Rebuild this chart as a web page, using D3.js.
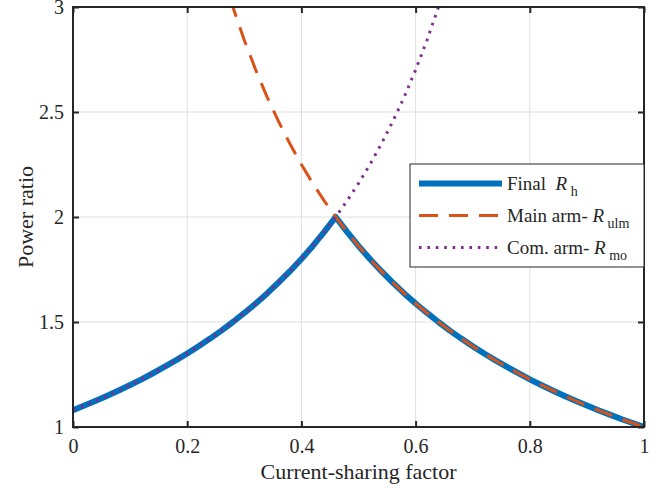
<!DOCTYPE html>
<html>
<head>
<meta charset="utf-8">
<script src="https://cdn.jsdelivr.net/npm/d3@7"></script>
<style>
    body { margin:0; background:#fff; }
    svg text { font-family:"Liberation Serif","Times New Roman",serif; fill:#262626; }
</style>
</head>
<body>
<svg id="chart" width="670" height="488"></svg>
<script>
// current-sharing factor grid
const xValues = [0,0.02,0.04,0.06,0.08,0.10,0.12,0.14,0.16,0.18,0.20,0.22,0.24,0.26,0.28,0.30,0.32,0.34,0.36,0.38,0.40,0.42,0.44,0.46,
    0.48,0.50,0.52,0.54,0.56,0.58,0.60,0.62,0.64,0.66,0.68,0.70,0.72,0.74,0.76,0.78,0.80,0.82,0.84,0.86,0.88,0.90,0.92,0.94,0.96,0.98,1.00];

// Com. arm- R_mo (dotted), null = off chart
const moValues = [1.080,1.102,1.125,1.149,1.174,1.200,1.227,1.256,1.286,1.317,1.350,1.385,1.421,1.459,1.500,1.543,1.588,1.636,1.688,1.742,1.800,1.862,1.929,2.000,
    2.077,2.160,2.250,2.348,2.455,2.571,2.700,2.842,3.000,3.176,null,null,null,null,null,null,null,null,null,null,null,null,null,null,null,null,null];

// Main arm- R_ulm (dashed)
const ulmValues = [null,null,null,null,null,null,null,null,null,null,null,null,null,3.176,3.000,2.842,2.700,2.571,2.455,2.348,2.250,2.160,2.077,2.000,
    1.929,1.862,1.800,1.742,1.688,1.636,1.588,1.543,1.500,1.459,1.421,1.385,1.350,1.317,1.286,1.256,1.227,1.200,1.174,1.149,1.125,1.102,1.080,1.059,1.038,1.019,1.000];

// Final R_h (thick)
const finalValues = [1.080,1.102,1.125,1.149,1.174,1.200,1.227,1.256,1.286,1.317,1.350,1.385,1.421,1.459,1.500,1.543,1.588,1.636,1.688,1.742,1.800,1.862,1.929,2.000,
    1.929,1.862,1.800,1.742,1.688,1.636,1.588,1.543,1.500,1.459,1.421,1.385,1.350,1.317,1.286,1.256,1.227,1.200,1.174,1.149,1.125,1.102,1.080,1.059,1.038,1.019,1.000];

const xTicks = [0,0.2,0.4,0.6,0.8,1];
const yTicks = [1,1.5,2,2.5,3];
const xTickLabels = ['0','0.2','0.4','0.6','0.8','1'];
const yTickLabels = ['1','1.5','2','2.5','3'];

const legendItems = [
    {name:'Final  ', sub:'h', color:'#0072BD', width:6, dash:null},
    {name:'Main arm- ', sub:'ulm', color:'#D95319', width:3, dash:'19,11'},
    {name:'Com. arm- ', sub:'mo', color:'#7E2F8E', width:3, dash:'2.6,5.8'}
];

const margin = {left:73, top:7, right:26, bottom:61};
const width = 670, height = 488;
const fontFamily = '"Liberation Serif","Times New Roman",serif';

const svg = d3.select('#chart');

const x = d3.scaleLinear().domain([0,1]).range([margin.left, width-margin.right]);
const y = d3.scaleLinear().domain([1,3]).range([height-margin.bottom, margin.top]);

// grid
const grid = svg.append('g').attr('class','grid');
grid.selectAll('line.gx')
    .data(xTicks.slice(1,-1))
    .enter().append('line')
    .attr('x1',d=>x(d)).attr('x2',d=>x(d))
    .attr('y1',y(1)).attr('y2',y(3))
    .attr('stroke','#dfdfdf').attr('stroke-width',1);
grid.selectAll('line.gy')
    .data(yTicks.slice(1,-1))
    .enter().append('line')
    .attr('x1',x(0)).attr('x2',x(1))
    .attr('y1',d=>y(d)).attr('y2',d=>y(d))
    .attr('stroke','#dfdfdf').attr('stroke-width',1);

svg.append('clipPath').attr('id','plotclip')
    .append('rect')
    .attr('x',x(0)).attr('y',y(3))
    .attr('width',x(1)-x(0)).attr('height',y(1)-y(3));

const lineOf = (values) => d3.line()
    .defined((d,i) => values[i] !== null)
    .x((d,i) => x(xValues[i]))
    .y((d,i) => y(values[i]));

const curves = svg.append('g').attr('clip-path','url(#plotclip)');
[[finalValues,legendItems[0]],[ulmValues,legendItems[1]],[moValues,legendItems[2]]].forEach(([values,item]) => {
    curves.append('path')
        .attr('d', lineOf(values)(xValues))
        .attr('fill','none')
        .attr('stroke',item.color)
        .attr('stroke-width',item.width)
        .attr('stroke-dasharray',item.dash)
        .attr('stroke-linejoin','round');
});

// axes (box with inward ticks on all sides)
const tickSize = 6;
const axes = svg.append('g').attr('class','axes');
const styleAxis = g => {
    g.attr('font-family',fontFamily).attr('font-size',20);
    g.select('.domain').remove();
    g.selectAll('.tick line').attr('stroke','#262626').attr('stroke-width',2);
    g.selectAll('.tick text').attr('fill','#262626');
};
axes.append('g')
    .attr('transform',`translate(0,${y(1)})`)
    .call(d3.axisBottom(x).tickValues(xTicks).tickFormat((d,i)=>xTickLabels[i]).tickSizeInner(-tickSize).tickPadding(12))
    .call(styleAxis);
axes.append('g')
    .attr('transform',`translate(0,${y(3)})`)
    .call(d3.axisTop(x).tickValues(xTicks).tickFormat('').tickSizeInner(-tickSize))
    .call(styleAxis);
axes.append('g')
    .attr('transform',`translate(${x(0)},0)`)
    .call(d3.axisLeft(y).tickValues(yTicks).tickFormat((d,i)=>yTickLabels[i]).tickSizeInner(-tickSize).tickPadding(9))
    .call(styleAxis);
axes.append('g')
    .attr('transform',`translate(${x(1)},0)`)
    .call(d3.axisRight(y).tickValues(yTicks).tickFormat('').tickSizeInner(-tickSize))
    .call(styleAxis);
axes.append('rect')
    .attr('x',x(0)).attr('y',y(3))
    .attr('width',x(1)-x(0)).attr('height',y(1)-y(3))
    .attr('fill','none').attr('stroke','#262626').attr('stroke-width',2);

// axis labels
svg.append('text')
    .attr('x',(x(0)+x(1))/2).attr('y',479)
    .attr('text-anchor','middle')
    .style('font-size','22px')
    .text('Current-sharing factor');
svg.append('text')
    .attr('transform',`translate(33,${(y(1)+y(3))/2}) rotate(-90)`)
    .attr('text-anchor','middle')
    .style('font-size','22px')
    .text('Power ratio');

// legend
const legend = svg.append('g').attr('transform','translate(410,164)');
legend.append('rect')
    .attr('width',234).attr('height',103)
    .attr('fill','#fff').attr('stroke','#262626').attr('stroke-width',1);
const rows = legend.selectAll('g.row')
    .data(legendItems)
    .enter().append('g')
    .attr('class','row')
    .attr('transform',(d,i)=>`translate(0,${19.5+i*32})`);
rows.append('line')
    .attr('x1',9).attr('x2',92)
    .attr('stroke',d=>d.color)
    .attr('stroke-width',d=>d.width)
    .attr('stroke-dasharray',d=>d.dash);
const label = rows.append('text')
    .attr('x',97).attr('y',6)
    .style('font-size','19px')
    .attr('xml:space','preserve');
label.append('tspan').text(d=>d.name);
label.append('tspan').style('font-style','italic').text('R');
label.append('tspan').attr('dy',6).style('font-size','14px').text(d=>' '+d.sub);
</script>
</body>
</html>
